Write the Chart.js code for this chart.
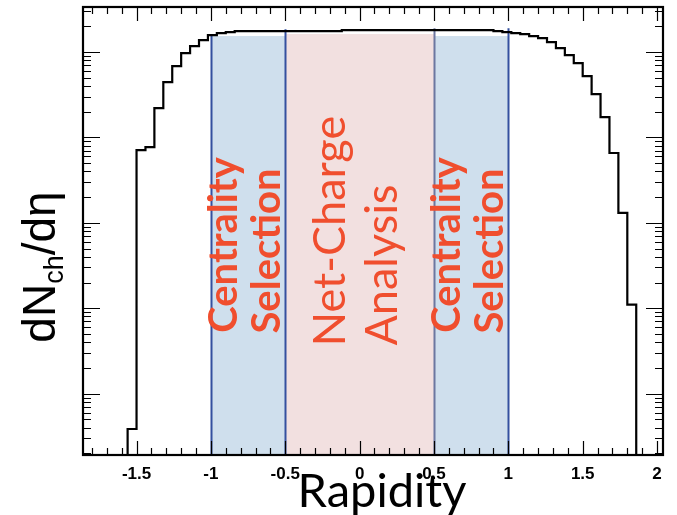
<!DOCTYPE html>
<html>
<head>
<meta charset="utf-8">
<script src="https://cdn.jsdelivr.net/npm/chart.js@4.4.0/dist/chart.umd.min.js"></script>
<style>
  html, body { margin: 0; padding: 0; background: #ffffff; }
  #wrap { width: 677px; height: 515px; position: relative; }
</style>
</head>
<body>
<div id="wrap"><canvas id="c" width="677" height="515"></canvas></div>
<script>
// Histogram binning in rapidity
const binStart = -1.86;
const binWidth = 0.06;

// Charged-particle density per bin (65 bins, -1.86 .. 2.04)
const dNchdEta = [
  0, 0, 0, 0, 0,
  0.0385, 71, 77, 221, 445, 685, 973, 1175, 1380, 1580, 1670, 1715,
  1760, 1760, 1760, 1760, 1760, 1760, 1760, 1760, 1760, 1760, 1760, 1760,
  1810, 1810, 1810, 1810, 1810, 1810, 1810, 1810, 1810, 1810, 1810, 1810,
  1810, 1810, 1810, 1810, 1810,
  1762, 1714, 1669, 1625, 1540, 1458, 1310, 1114, 922, 743, 523, 322,
  173, 65.7, 13.1, 1.10,
  0, 0, 0
];

// Axis tick labels
const xTickValues = [-1.5, -1, -0.5, 0, 0.5, 1, 1.5, 2];
const xTickLabels = ['-1.5', '-1', '-0.5', '0', '0.5', '1', '1.5', '2'];

// Analysis windows in rapidity
const centralityWindows = [[-1, -0.5], [0.5, 1]];
const netChargeWindow = [-0.5, 0.5];
const centralityTop = 1540;
const netChargeTop = 1625;
const windowEdges = [-1, -0.5, 0.5, 1];
const windowEdgeTop = [1560, 1850, 1900, 1900];

const centralityLines = ['Centrality', 'Selection'];
const netChargeLines = ['Net-Charge', 'Analysis'];

// Log scale that keeps empty bins on the axis floor instead of dropping them
class LogWithZeroScale extends Chart.LogarithmicScale {
  parse(raw, index) {
    if (raw === 0) return 0;
    return super.parse(raw, index);
  }
}
LogWithZeroScale.id = 'logWithZero';
LogWithZeroScale.defaults = Chart.LogarithmicScale.defaults;
Chart.register(LogWithZeroScale);

// one point per lower bin edge, plus the upper edge of the last bin
const points = dNchdEta.map((v, k) => ({ x: +(binStart + k * binWidth).toFixed(3), y: v }));
points.push({ x: +(binStart + dNchdEta.length * binWidth).toFixed(3), y: dNchdEta[dNchdEta.length - 1] });

const RED = '#f04e2e';

function rotatedText(ctx, text, x, y, font, color, align) {
  ctx.save();
  ctx.translate(x, y);
  ctx.rotate(-Math.PI / 2);
  ctx.font = font;
  ctx.fillStyle = color;
  ctx.textAlign = align || 'center';
  ctx.textBaseline = 'alphabetic';
  ctx.fillText(text, 0, 0);
  ctx.restore();
}

const windowsPlugin = {
  id: 'windows',
  beforeDatasetsDraw(chart) {
    const { ctx, chartArea, scales: { x, y } } = chart;
    ctx.save();
    ctx.beginPath();
    ctx.rect(chartArea.left, chartArea.top, chartArea.right - chartArea.left, chartArea.bottom - chartArea.top);
    ctx.clip();
    // shaded windows
    ctx.fillStyle = '#f2e0e0';
    const nl = x.getPixelForValue(netChargeWindow[0]);
    const nr = x.getPixelForValue(netChargeWindow[1]);
    const nt = y.getPixelForValue(netChargeTop);
    ctx.fillRect(nl, nt, nr - nl, chartArea.bottom - nt);
    ctx.fillStyle = '#cfdfed';
    centralityWindows.forEach(([a, b]) => {
      const l = x.getPixelForValue(a), r = x.getPixelForValue(b);
      const t = y.getPixelForValue(centralityTop);
      ctx.fillRect(l, t, r - l, chartArea.bottom - t);
    });
    // window edges
    windowEdges.forEach((v, i) => {
      const px = Math.round(x.getPixelForValue(v)) + 0.5;
      ctx.strokeStyle = v === 0.5 ? '#6c77a0' : '#34509f';
      ctx.lineWidth = 2;
      ctx.beginPath();
      ctx.moveTo(px, chartArea.bottom);
      ctx.lineTo(px, y.getPixelForValue(windowEdgeTop[i]));
      ctx.stroke();
    });
    ctx.restore();
  },
  afterDatasetsDraw(chart) {
    const { ctx, scales: { x } } = chart;
    // labels inside the windows
    centralityWindows.forEach(([a]) => {
      const l = x.getPixelForValue(a);
      rotatedText(ctx, centralityLines[0], l + 26, 245, 'bold 40px Lato', RED);
      rotatedText(ctx, centralityLines[1], l + 69, 251, 'bold 40px Lato', RED);
    });
    const nl = x.getPixelForValue(netChargeWindow[0]);
    rotatedText(ctx, netChargeLines[0], nl + 60, 231, '45px Lato', RED);
    rotatedText(ctx, netChargeLines[1], nl + 112, 265, '45px Lato', RED);
  }
};

const framePlugin = {
  id: 'frame',
  afterDraw(chart) {
    const { ctx, chartArea: a, scales: { x, y } } = chart;
    ctx.save();
    ctx.strokeStyle = '#000';
    // inside tick marks, rapidity axis
    ctx.lineWidth = 1.2;
    for (let i = -18; i <= 20; i++) {
      const v = i / 10;
      const px = Math.round(x.getPixelForValue(v)) + 0.5;
      const len = i % 5 === 0 ? 14 : 7;
      ctx.beginPath();
      ctx.moveTo(px, a.bottom); ctx.lineTo(px, a.bottom - len);
      ctx.moveTo(px, a.top); ctx.lineTo(px, a.top + len);
      ctx.stroke();
    }
    // inside tick marks, logarithmic axis
    for (let e = -2; e <= 3; e++) {
      for (let m = 1; m <= 9; m++) {
        const v = m * Math.pow(10, e);
        if (v < y.min || v > y.max) continue;
        const py = Math.round(y.getPixelForValue(v)) + 0.5;
        const len = m === 1 ? 17 : 8;
        ctx.beginPath();
        ctx.moveTo(a.left, py); ctx.lineTo(a.left + len, py);
        ctx.moveTo(a.right, py); ctx.lineTo(a.right - len, py);
        ctx.stroke();
      }
    }
    // frame
    ctx.lineWidth = 2.2;
    ctx.strokeRect(a.left, a.top, a.right - a.left, a.bottom - a.top);

    // axis titles
    ctx.fillStyle = '#000';
    ctx.font = '47px Lato';
    ctx.textAlign = 'center';
    ctx.textBaseline = 'alphabetic';
    ctx.fillText('Rapidity', 382, 507);

    // dN_ch/dη, rotated, with subscript
    const big = '46px "Liberation Sans"';
    const small = '27px "Liberation Sans"';
    ctx.font = big; const w1 = ctx.measureText('dN').width; const w3 = ctx.measureText('/dη').width;
    ctx.font = small; const w2 = ctx.measureText('ch').width;
    const total = w1 + w2 + w3;
    ctx.translate(55, 267 + total / 2);
    ctx.rotate(-Math.PI / 2);
    ctx.textAlign = 'left';
    ctx.font = big; ctx.fillText('dN', 0, 0);
    ctx.font = small; ctx.fillText('ch', w1, 8);
    ctx.font = big; ctx.fillText('/dη', w1 + w2, 0);
    ctx.restore();
  }
};

new Chart(document.getElementById('c').getContext('2d'), {
  type: 'line',
  data: {
    datasets: [{
      data: points,
      stepped: 'before',
      borderColor: '#000',
      borderWidth: 2.2,
      pointRadius: 0,
      fill: false
    }]
  },
  options: {
    responsive: false,
    animation: false,
    layout: { padding: { top: 7, right: 14, left: 0, bottom: 0 } },
    plugins: { legend: { display: false }, tooltip: { enabled: false } },
    scales: {
      x: {
        type: 'linear',
        min: -1.86,
        max: 2.04,
        grid: { display: false, drawTicks: false },
        border: { display: false },
        afterBuildTicks: s => { s.ticks = xTickValues.map(v => ({ value: v })); },
        afterFit: s => { s.height = 60; },
        ticks: {
          autoSkip: false,
          maxRotation: 0,
          padding: 9,
          color: '#000',
          font: { family: 'Liberation Sans', weight: 'bold', size: 17 },
          callback: v => { const i = xTickValues.indexOf(v); return i >= 0 ? xTickLabels[i] : ''; }
        }
      },
      y: {
        type: 'logWithZero',
        min: 0.0191,
        max: 3370,
        grid: { display: false, drawTicks: false },
        border: { display: false },
        ticks: { display: false },
        afterFit: s => { s.width = 83; }
      }
    }
  },
  plugins: [windowsPlugin, framePlugin]
});
</script>
</body>
</html>
